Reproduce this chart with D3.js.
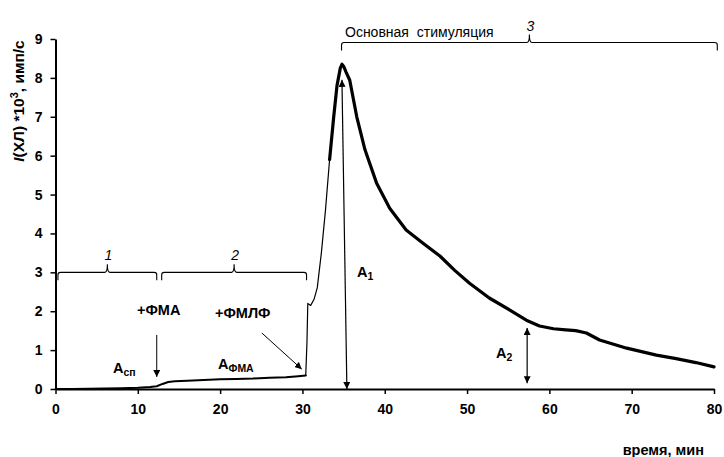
<!DOCTYPE html>
<html>
<head>
<meta charset="utf-8">
<script src="https://cdn.jsdelivr.net/npm/d3@7"></script>
<style>
  html, body { margin: 0; padding: 0; background: #fff; }
  svg { display: block; }
  text { font-family: "Liberation Sans", Arial, sans-serif; fill: #000; }
  .axis text { font-size: 14px; font-weight: bold; fill: #000; }
  .axis path.domain { stroke: #000; stroke-width: 2px; }
  .axis .tick line { stroke: #000; stroke-width: 1.5px; }
</style>
</head>
<body>
<svg id="chart" width="724" height="457"></svg>
<script>
// Chemiluminescence kinetics: time, min
const timeMin = [
  0, 2, 4, 6, 8, 10, 11.5, 12.3, 13.0, 13.7, 14.5, 16, 18, 20, 22, 24, 26, 28, 29.5, 30.4,
  30.55, 30.65, 31.0, 31.4, 31.8, 32.3, 32.8, 33.3, 33.8, 34.2, 34.6, 34.8, 35.0, 35.3,
  35.75, 36.6, 37.6, 39.0, 40.6, 42.6, 44.65, 46.7, 48.5, 50.3, 52.7, 55.2, 57.2, 58.8,
  60.5, 62.0, 63.2, 64.5, 66.1, 67.8, 69.4, 71.2, 73.0, 75.4, 77.8, 80
];
// Intensity I(ХЛ), ×10³ imp/s
const intensity = [
  0, 0, 0.005, 0.01, 0.02, 0.03, 0.05, 0.07, 0.13, 0.18, 0.2, 0.21, 0.23, 0.25, 0.26, 0.27, 0.29, 0.3, 0.33, 0.35,
  1.2, 2.2, 2.15, 2.3, 2.6, 3.5, 4.6, 5.9, 7.0, 7.8, 8.25, 8.35, 8.3, 8.15,
  7.94, 7.0, 6.15, 5.3, 4.65, 4.09, 3.75, 3.42, 3.05, 2.72, 2.34, 2.03, 1.77, 1.62,
  1.55, 1.52, 1.5, 1.44, 1.26, 1.15, 1.05, 0.96, 0.87, 0.78, 0.68, 0.57
];
// Line weight per stage of the record (ends in minutes)
const stageEnds = [30.45, 33.8, 80];
const stageWidths = [2.0, 1.2, 3.2];

const xTicks = [0, 10, 20, 30, 40, 50, 60, 70, 80];
const yTicks = [0, 1, 2, 3, 4, 5, 6, 7, 8, 9];

// Stage brackets: start, end, level, label
const bracketStart = [0.3, 12.9, 34.75];
const bracketEnd = [12.3, 30.5, 80.4];
const bracketLevel = [3, 3, 8.91];
const bracketLabel = ["1", "2", "3"];

// Double-headed amplitude arrows and single pointer arrows: [t1, v1, t2, v2]
const amplitudeArrows = [[34.8, 7.95, 35.4, 0], [57.3, 1.57, 57.3, 0.15]];
const pointerArrows = [[12.3, 1.39, 12.3, 0.31], [25.07, 1.44, 29.92, 0.51]];

const svg = d3.select("#chart");
const x = d3.scaleLinear().domain([0, 80]).range([55.5, 714]);
const y = d3.scaleLinear().domain([0, 9]).range([389, 39]);

// arrow heads
const defs = svg.append("defs");
function marker(id, orient) {
  defs.append("marker").attr("id", id)
    .attr("viewBox", "0 0 10 10").attr("refX", 10).attr("refY", 5)
    .attr("markerWidth", 7).attr("markerHeight", 7)
    .attr("markerUnits", "userSpaceOnUse")
    .attr("orient", orient)
    .append("path").attr("d", "M0,0 L10,5 L0,10 Z").attr("fill", "#000");
}
marker("head", "auto");
marker("headStart", "auto-start-reverse");

// axes
const xAxis = d3.axisBottom(x).tickValues(xTicks).tickSize(5).tickPadding(10).tickSizeOuter(0);
const yAxis = d3.axisLeft(y).tickValues(yTicks).tickSize(5).tickPadding(8).tickSizeOuter(0);

svg.append("g").attr("class", "axis x-axis")
  .attr("transform", "translate(0," + y(0) + ")")
  .call(xAxis)
  .attr("font-size", 14).attr("font-weight", "bold")
  .attr("font-family", "'Liberation Sans', Arial, sans-serif");

svg.append("g").attr("class", "axis y-axis")
  .attr("transform", "translate(" + x(0) + ",0)")
  .call(yAxis)
  .attr("font-size", 14).attr("font-weight", "bold")
  .attr("font-family", "'Liberation Sans', Arial, sans-serif");

// curve, drawn stage by stage
const pts = timeMin.map((t, i) => [t, intensity[i]]);
const line = d3.line().x(d => x(d[0])).y(d => y(d[1]));
let prev = -Infinity;
stageEnds.forEach((end, k) => {
  const seg = pts.filter(d => d[0] >= prev && d[0] <= end);
  const before = pts.filter(d => d[0] < prev);
  if (before.length) seg.unshift(before[before.length - 1]);
  svg.append("path").datum(seg).attr("d", line)
    .attr("fill", "none").attr("stroke", "#000")
    .attr("stroke-width", stageWidths[k])
    .attr("stroke-linejoin", "round").attr("stroke-linecap", "round");
  prev = end;
});

// brackets
bracketStart.forEach((s, i) => {
  const x1 = x(s), x2 = x(bracketEnd[i]), yy = y(bracketLevel[i]);
  const xm = (x1 + x2) / 2, r = 2.5, drop = 8, rise = 8;
  const p = d3.path();
  p.moveTo(x1, yy + drop);
  p.lineTo(x1, yy + r);
  p.quadraticCurveTo(x1, yy, x1 + r, yy);
  p.lineTo(xm - r, yy);
  p.quadraticCurveTo(xm, yy, xm, yy - rise);
  p.quadraticCurveTo(xm, yy, xm + r, yy);
  p.lineTo(x2 - r, yy);
  p.quadraticCurveTo(x2, yy, x2, yy + r);
  p.lineTo(x2, yy + drop);
  svg.append("path").attr("d", p.toString()).attr("fill", "none")
    .attr("stroke", "#000").attr("stroke-width", 1.1);
  svg.append("text").attr("x", xm + 1).attr("y", yy - rise - 4)
    .attr("text-anchor", "middle").attr("font-size", 14).attr("font-style", "italic")
    .text(bracketLabel[i]);
});

svg.append("text").attr("x", 345).attr("y", 37).attr("font-size", 14)
  .attr("xml:space", "preserve").text("Основная  стимуляция");

// arrows
amplitudeArrows.forEach(a => {
  svg.append("line").attr("x1", x(a[0])).attr("y1", y(a[1]))
    .attr("x2", x(a[2])).attr("y2", y(a[3]))
    .attr("stroke", "#000").attr("stroke-width", 1.2)
    .attr("marker-start", "url(#headStart)").attr("marker-end", "url(#head)");
});
pointerArrows.forEach(a => {
  svg.append("line").attr("x1", x(a[0])).attr("y1", y(a[1]))
    .attr("x2", x(a[2])).attr("y2", y(a[3]))
    .attr("stroke", "#000").attr("stroke-width", 1)
    .attr("marker-end", "url(#head)");
});

// annotation text
function label(xp, yp, main, sub, size) {
  const t = svg.append("text").attr("x", xp).attr("y", yp)
    .attr("font-size", size).attr("font-weight", "bold");
  t.append("tspan").text(main);
  if (sub) t.append("tspan").attr("font-size", size * 0.72).attr("dy", 2.5).text(sub);
}
label(137, 315, "+ФМА", null, 14.5);
label(215, 318, "+ФМЛФ", null, 14.5);
label(113, 373, "A", "сп", 14.5);
label(218, 369, "A", "ФМА", 14.5);
label(357, 277, "A", "1", 14.5);
label(496, 358, "A", "2", 14.5);

// axis titles
svg.append("text").attr("x", 704).attr("y", 455).attr("text-anchor", "end")
  .attr("font-size", 14.5).attr("font-weight", "bold").text("время, мин");

const yt = svg.append("text").attr("transform", "translate(24,101) rotate(-90)")
  .attr("text-anchor", "middle").attr("font-size", 15.5).attr("font-weight", "bold");
yt.append("tspan").attr("font-style", "italic").text("I");
yt.append("tspan").text("(ХЛ) *10");
yt.append("tspan").attr("font-size", 11).attr("dy", -6).text("3");
yt.append("tspan").attr("dy", 6).text(", имп/с");
</script>
</body>
</html>
